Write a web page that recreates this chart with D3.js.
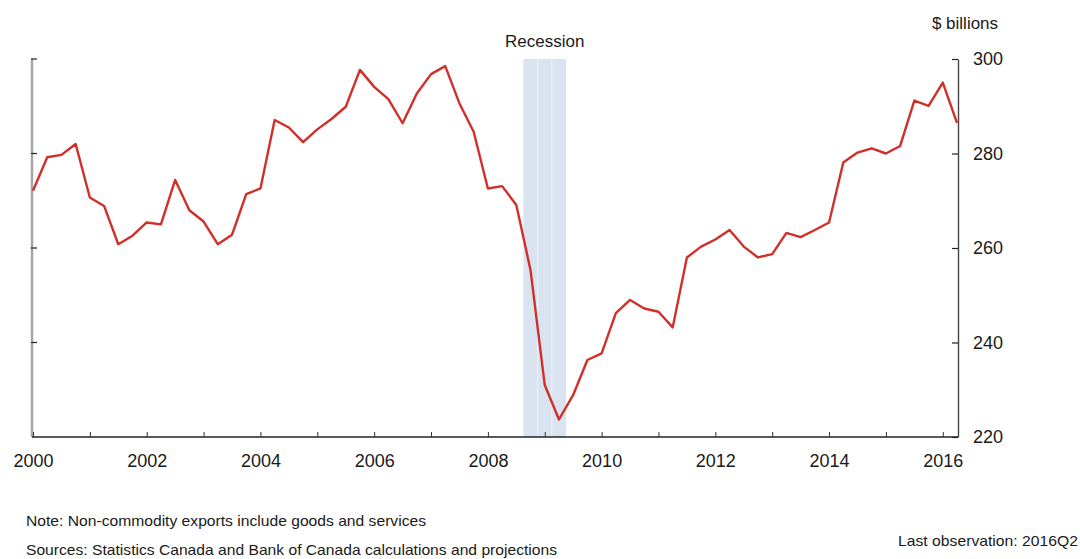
<!DOCTYPE html>
<html>
<head>
<meta charset="utf-8">
<script src="https://cdn.jsdelivr.net/npm/d3@7"></script>
<style>
  body { margin: 0; background: #fff; }
  text { font-family: "Liberation Sans", Arial, sans-serif; fill: #1a1a1a; }
  .note { font-family: "Liberation Sans Narrow", "Arial Narrow", "Liberation Sans", sans-serif; }
</style>
</head>
<body>
<div id="chart"></div>
<script>
// quarterly non-commodity exports, $ billions, 2000Q1 .. 2016Q2
const startYear = 2000
const values = [
    272.1, 279.2, 279.7, 282.0,
    270.7, 268.9, 260.8, 262.6,
    265.4, 265.0, 274.4, 268.0,
    265.6, 260.8, 262.8, 271.4,
    272.6, 287.1, 285.5, 282.4,
    285.1, 287.3, 289.9, 297.7,
    294.1, 291.5, 286.4, 292.7,
    296.8, 298.5, 290.6, 284.6,
    272.6, 273.1, 269.1, 255.3,
    231.0, 223.7, 228.9, 236.3,
    237.7, 246.2, 249.0, 247.2,
    246.5, 243.2, 258.0, 260.3,
    261.8, 263.8, 260.3, 258.0,
    258.7, 263.2, 262.3, 263.8,
    265.4, 278.1, 280.2, 281.1,
    280.0, 281.6, 291.2, 290.1,
    295.0, 286.5
]
const recession = [2008.75, 2009.0, 2009.25]   // 2008Q4 - 2009Q2
const yearTicks = d3.range(2000, 2017)
const yearLabels = [2000, 2002, 2004, 2006, 2008, 2010, 2012, 2014, 2016]
const yTicks = [220, 240, 260, 280, 300]

var width = 1080, height = 559
const pLeft = 32, pRight = 958, pTop = 59, pBottom = 437

const svg = d3.select('#chart').append('svg').attr('width', width).attr('height', height)

const x = d3.scaleLinear().domain([2000, 2016.25]).range([33, 957])
const y = d3.scaleLinear().domain([220, 300]).range([pBottom, pTop])

const data = values.map((v, i) => ({ t: startYear + i / 4, v: v }))

// recession shading, one bar per quarter with a faint seam between
svg.selectAll('rect.rec')
    .data(recession).enter()
    .append('rect')
    .attr('class', 'rec')
    .attr('x', d => x(d - 0.125))
    .attr('width', d => x(d + 0.125) - x(d - 0.125))
    .attr('y', pTop)
    .attr('height', pBottom - pTop)
    .attr('fill', '#dae3f0')
svg.selectAll('line.seam')
    .data(recession.slice(1)).enter()
    .append('line')
    .attr('class', 'seam')
    .attr('x1', d => x(d - 0.125)).attr('x2', d => x(d - 0.125))
    .attr('y1', pTop).attr('y2', pBottom)
    .attr('stroke', '#eef2f8').attr('stroke-width', 1)

svg.append('text')
    .attr('x', (x(recession[0] - 0.125) + x(recession[2] + 0.125)) / 2)
    .attr('y', 47)
    .attr('text-anchor', 'middle')
    .style('font-size', '17px')
    .text('Recession')

// left axis, gray line with short inward ticks
svg.append('line')
    .attr('x1', pLeft).attr('x2', pLeft).attr('y1', pTop).attr('y2', pBottom)
    .attr('stroke', '#a6a6a6').attr('stroke-width', 2.5)
svg.selectAll('line.lt')
    .data(yTicks.slice(1)).enter()
    .append('line')
    .attr('class', 'lt')
    .attr('x1', pLeft - 1).attr('x2', pLeft + 5)
    .attr('y1', d => y(d)).attr('y2', d => y(d))
    .attr('stroke', '#222').attr('stroke-width', 1.2)

// right axis
const yAxis = d3.axisRight(y).tickValues(yTicks).tickSizeInner(-6).tickSizeOuter(0).tickPadding(15)
const gy = svg.append('g').attr('transform', `translate(${pRight},0)`).call(yAxis)
gy.select('.domain').attr('stroke', '#444').attr('stroke-width', 1.4)
gy.selectAll('.tick line').attr('stroke', '#222').attr('stroke-width', 1.2)
gy.selectAll('.tick text').style('font-size', '18px').attr('fill', '#1a1a1a')

// bottom axis
const xAxis = d3.axisBottom(x).tickValues(yearTicks).tickSizeInner(-5).tickSizeOuter(0).tickPadding(17)
    .tickFormat(d => yearLabels.includes(d) ? d : '')
const gx = svg.append('g').attr('transform', `translate(0,${pBottom})`).call(xAxis)
gx.select('.domain').attr('d', `M${pLeft},0H${pRight}`).attr('stroke', '#222').attr('stroke-width', 1.5)
gx.selectAll('.tick line').attr('stroke', '#333').attr('stroke-width', 1)
gx.selectAll('.tick text').style('font-size', '18px').attr('fill', '#1a1a1a')

svg.append('text')
    .attr('x', 965).attr('y', 29)
    .attr('text-anchor', 'middle')
    .style('font-size', '17px')
    .text('$ billions')

// series
const line = d3.line().x(d => x(d.t)).y(d => y(d.v))
svg.append('path')
    .datum(data)
    .attr('d', line)
    .attr('fill', 'none')
    .attr('stroke', '#d12f2a')
    .attr('stroke-width', 2.4)
    .attr('stroke-linejoin', 'round')

// notes
svg.append('text').attr('class', 'note')
    .attr('x', 26).attr('y', 526)
    .attr('textLength', 400).attr('lengthAdjust', 'spacingAndGlyphs')
    .style('font-size', '15px')
    .text('Note: Non-commodity exports include goods and services')
svg.append('text').attr('class', 'note')
    .attr('x', 26).attr('y', 555)
    .attr('textLength', 531).attr('lengthAdjust', 'spacingAndGlyphs')
    .style('font-size', '15px')
    .text('Sources: Statistics Canada and Bank of Canada calculations and projections')
svg.append('text').attr('class', 'note')
    .attr('x', 898).attr('y', 546)
    .attr('textLength', 180).attr('lengthAdjust', 'spacingAndGlyphs')
    .style('font-size', '15px')
    .text('Last observation: 2016Q2')
</script>
</body>
</html>
